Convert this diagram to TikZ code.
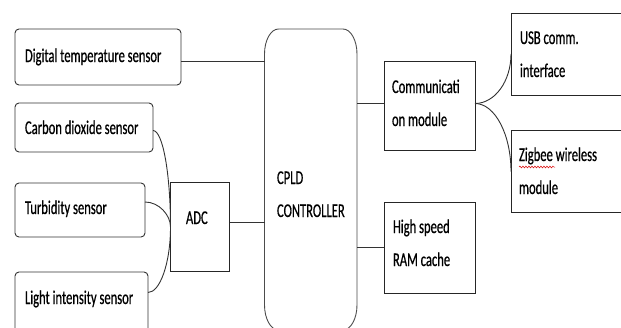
\documentclass[tikz,border=0pt]{standalone}
\usepackage{fontspec}
\newfontfamily\diafont[FakeStretch=0.645,FakeBold=0.6]{Carlito}
\usetikzlibrary{decorations.pathmorphing}
\begin{document}
\begin{tikzpicture}[x=1pt,y=-1pt,
  every node/.style={inner sep=0pt, outer sep=0pt},
  sensor/.style={draw=black!80, line width=0.9pt, rounded corners=4pt, anchor=north west},
  blk/.style={draw=black!85, line width=0.9pt, anchor=north west},
  lbl/.style={font=\diafont\fontsize{19.5}{33}\selectfont, anchor=base west, align=left, text=black},
  wire/.style={draw=black!80, line width=0.9pt},
  outl/.style={draw=black!70, line width=0.9pt},
  squig/.style={draw=red!85!black, line width=0.5pt, decorate, decoration={snake, amplitude=0.9pt, segment length=3pt}}]
\useasboundingbox (0,0) rectangle (621,327);
\clip (0,0) rectangle (621,327);
\fill[white] (0,0) rectangle (621,327);

% sensor boxes
\node[sensor, minimum width=166pt, minimum height=56pt] (dts) at (15,29) {};
\node[sensor, minimum width=138pt, minimum height=49pt] (co2) at (15,103) {};
\node[sensor, minimum width=130pt, minimum height=54pt] (tur) at (15,183) {};
\node[sensor, minimum width=133pt, minimum height=70pt] (lis) at (15,272) {};

% blocks
\node[blk, minimum width=59pt, minimum height=89pt] (adc) at (170.5,182.5) {};
\node[draw=none, minimum width=92.5pt, minimum height=301pt, anchor=north west] (cpld) at (264.5,29) {};
\node[blk, minimum width=91pt, minimum height=89pt] (comm) at (384,61) {};
\node[blk, minimum width=91pt, minimum height=91pt] (ram) at (384,202) {};
\node[blk, minimum width=120pt, minimum height=82pt] (usb) at (511,13) {};
\node[blk, minimum width=120pt, minimum height=82pt] (zig) at (511,130.5) {};

% CPLD outline
\draw[outl] ([yshift=-25pt]cpld.north west) .. controls +(0,-13.75) and +(-7.7,0) .. ([xshift=14pt]cpld.north west)
  -- ([xshift=-14pt]cpld.north east) .. controls +(7.7,0) and +(0,-13.75) .. ([yshift=-25pt]cpld.north east)
  -- ([yshift=25pt]cpld.south east) .. controls +(0,13.75) and +(7.7,0) .. ([xshift=-14pt]cpld.south east)
  -- ([xshift=14pt]cpld.south west) .. controls +(-7.7,0) and +(0,13.75) .. ([yshift=25pt]cpld.south west)
  -- cycle;

% labels (multi-line labels are placed by the baseline of their last line)
\node[lbl] (dts-t) at (25,62) {Digital temperature sensor};
\node[lbl] (co2-t) at (25,134) {Carbon dioxide sensor};
\node[lbl] (tur-t) at (25,214) {Turbidity sensor};
\node[lbl] (lis-t) at (25,304) {Light intensity sensor};
\node[lbl] (adc-t) at (186,224) {ADC};
\node[lbl] (cpld-t) at (277,217) {CPLD\\CONTROLLER};
\node[lbl] (comm-t) at (392,126) {Communicati\\on module};
\node[lbl] (usb-t) at (520,77) {USB comm.\\interface};
\node[lbl] (zig-t) at (519,194) {Zigbee wireless\\module};
\node[lbl] (ram-t) at (393,266) {High speed\\RAM cache};

% straight connectors
\draw[wire] ([yshift=-4.5pt]dts.east) -- ([yshift=-4.5pt]dts.east -| cpld.west);
\draw[wire] ([yshift=5pt]adc.east) -- ([yshift=5pt]adc.east -| cpld.west);
\draw[wire] ([yshift=2pt]comm.west) -- ([yshift=2pt]comm.west -| cpld.east);
\draw[wire] (ram.west) -- (ram.west -| cpld.east);

% curved connectors
\draw[wire] ([yshift=2pt]comm.east) .. controls +(20,0) and +(0,27) .. (usb.west);
\draw[wire] ([yshift=2pt]comm.east) .. controls +(20,0) and +(0,-37) .. (zig.west);
\draw[wire] ([yshift=-3pt]co2.east) .. controls +(10,0) and +(0,-52) .. (adc.west);
\draw[wire] ([yshift=8pt]tur.east) .. controls +(14,0) and +(0,-12) .. (adc.west);
\draw[wire] ([yshift=14.5pt]lis.east) .. controls +(12,0) and +(0,36) .. (adc.west);

% spell-check squiggle under "Zigbee"
\draw[squig] ([yshift=27pt]zig-t.base west) -- ([xshift=36pt,yshift=27pt]zig-t.base west);
\end{tikzpicture}
\end{document}
